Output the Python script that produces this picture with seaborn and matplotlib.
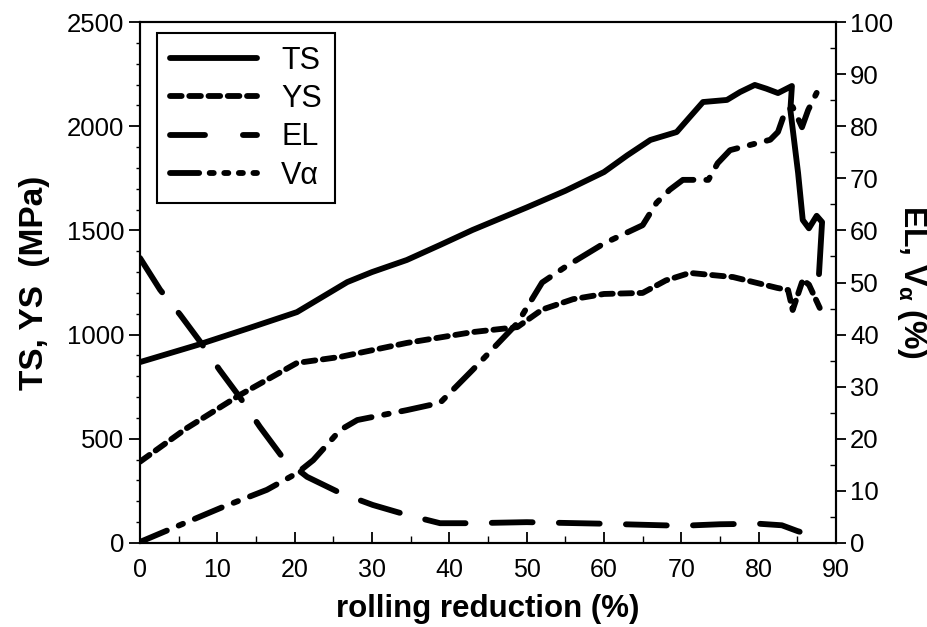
import matplotlib
matplotlib.use("Agg")
import matplotlib.pyplot as plt
import seaborn as sns
import pandas as pd
from matplotlib.ticker import MultipleLocator
from matplotlib.lines import Line2D

# ---- data ----
ts_x = [0, 7.4, 14, 20.3, 26.8, 30, 34.5, 38.8, 43, 50, 55, 60, 63, 66, 69.4, 71, 72.8, 75.9, 77.6, 79.5, 81, 82.5, 84.3, 84.1, 85.1, 85.7, 86.5, 87.5, 88.2, 87.8]
ts_y = [868, 950, 1030, 1108, 1252, 1300, 1358, 1430, 1502, 1610, 1690, 1780, 1860, 1934, 1972, 2040, 2116, 2126, 2164, 2198, 2180, 2159, 2193, 2078, 1775, 1550, 1510, 1570, 1540, 1290]

ys_x = [0, 6, 12.9, 20.3, 25.9, 34.5, 43, 48.8, 52, 56, 60, 65, 68, 71.1, 76.7, 82.4, 83.8, 84.4, 85.7, 86.5, 87.9]
ys_y = [390, 550, 710, 864, 893, 960, 1012, 1036, 1120, 1170, 1195, 1200, 1260, 1296, 1276, 1224, 1214, 1118, 1262, 1240, 1128]

el_x = [0, 2.6, 5.2, 7.8, 10.3, 12.9, 15.5, 18.5, 21.6, 25.9, 30.1, 34.5, 38.8, 43, 50, 60, 70, 75, 80, 83, 85, 86.5, 88]
el_y = [54.7, 48.6, 43.8, 38.6, 33.2, 28, 22.3, 16.3, 12.7, 9.6, 7.3, 5.4, 3.8, 3.8, 4.0, 3.7, 3.3, 3.6, 3.7, 3.4, 2.3, 1.6, 1.1]

va_x = [0, 4.3, 10.7, 16.4, 20.3, 22.4, 25.9, 28.1, 34.5, 38.8, 43, 48.8, 52, 55, 60, 65, 66.8, 68.5, 70.2, 73.5, 74.7, 76.3, 81.5, 82.5, 83.4, 84.4, 85.6, 86.4, 87.5]
va_y = [0.2, 2.9, 6.9, 10.2, 13.4, 15.9, 21.7, 23.6, 25.5, 26.9, 33.2, 42.2, 50, 53, 57.5, 61, 65.3, 67.8, 69.7, 69.7, 72.9, 75.4, 77.4, 78.9, 82.7, 83.7, 79.8, 83.1, 86.4]

x_ticks = [0, 10, 20, 30, 40, 50, 60, 70, 80, 90]
left_ticks = [0, 500, 1000, 1500, 2000, 2500]
right_ticks = [0, 10, 20, 30, 40, 50, 60, 70, 80, 90, 100]
legend_labels = ["TS", "YS", "EL", "Vα"]

# ---- style ----
sns.set_style("ticks")
plt.rcParams["font.family"] = ["Liberation Sans", "DejaVu Sans"]
plt.rcParams["mathtext.fontset"] = "custom"
plt.rcParams["mathtext.rm"] = "Liberation Sans"
plt.rcParams["mathtext.it"] = "Liberation Sans:italic"
plt.rcParams["mathtext.bf"] = "Liberation Sans:bold"
for k in ["text.color", "axes.labelcolor", "xtick.color", "ytick.color", "axes.edgecolor"]:
    plt.rcParams[k] = "black"

fig = plt.figure(figsize=(9.28, 6.27), dpi=100)
ax = fig.add_axes([140/928, 1-543/627, 696/928, 521/627])
ax2 = ax.twinx()

LW = 4.2
ts_df = pd.DataFrame({"x": ts_x, "y": ts_y})
ys_df = pd.DataFrame({"x": ys_x, "y": ys_y})
el_df = pd.DataFrame({"x": el_x, "y": el_y})
va_df = pd.DataFrame({"x": va_x, "y": va_y})

sns.lineplot(data=ts_df, x="x", y="y", ax=ax, color="black", linewidth=LW, sort=False, estimator=None)
sns.lineplot(data=ys_df, x="x", y="y", ax=ax, color="black", linewidth=LW, sort=False, estimator=None)
sns.lineplot(data=el_df, x="x", y="y", ax=ax2, color="black", linewidth=LW, sort=False, estimator=None)
sns.lineplot(data=va_df, x="x", y="y", ax=ax2, color="black", linewidth=LW, sort=False, estimator=None)

ys_dash = (2.0, 1.3)
el_dash = (7.0, 4.5)
va_dash = (5.0, 2.2, 0.8, 2.2)
ax.lines[1].set_dashes(ys_dash)
ax2.lines[0].set_dashes(el_dash)
ax2.lines[1].set_dashes(va_dash)
for ln in ax.lines + ax2.lines:
    ln.set_solid_capstyle("round")
    ln.set_dash_capstyle("round")
    ln.set_solid_joinstyle("round")

ax.set_xlim(0, 90)
ax.set_ylim(0, 2500)
ax2.set_ylim(0, 100)
ax.set_xticks(x_ticks)
ax.set_yticks(left_ticks)
ax2.set_yticks(right_ticks)
ax.xaxis.set_minor_locator(MultipleLocator(5))
ax.yaxis.set_minor_locator(MultipleLocator(100))
ax2.yaxis.set_minor_locator(MultipleLocator(5))

ax.tick_params(axis="x", which="major", direction="in", length=8, width=1.3, labelsize=18, pad=10.5)
ax.tick_params(axis="x", which="minor", direction="in", length=5, width=1.0)
ax.tick_params(axis="y", which="major", direction="out", length=8, width=1.3, labelsize=18.5, pad=3.5)
ax.tick_params(axis="y", which="minor", direction="out", length=3, width=1.0)
ax2.tick_params(axis="y", which="major", direction="out", length=7, width=1.3, labelsize=18.5, pad=3)
ax2.tick_params(axis="y", which="minor", direction="in", length=4, width=1.0)

for a in (ax, ax2):
    for s in a.spines.values():
        s.set_linewidth(1.5)
        s.set_color("black")
        s.set_visible(True)

ax.set_xlabel("rolling reduction (%)", fontsize=22.5, fontweight="bold", labelpad=9)
ax.set_ylabel("TS, YS  (MPa)", fontsize=24, fontweight="bold", labelpad=12)
ax2.set_ylabel(r"EL, V$_{\mathbf{\alpha}}$ (%)", fontsize=23, fontweight="bold", rotation=270, labelpad=26)

handles = [
    Line2D([], [], color="black", lw=LW, solid_capstyle="round"),
    Line2D([], [], color="black", lw=LW, dashes=ys_dash, dash_capstyle="round"),
    Line2D([], [], color="black", lw=LW, dashes=(6.0, 6.5), dash_capstyle="round"),
    Line2D([], [], color="black", lw=LW, dashes=(5.0, 1.8, 0.7, 1.8, 0.7, 1.8, 0.7, 1.8), dash_capstyle="round"),
]
leg = ax2.legend(handles, legend_labels, loc="upper left", bbox_to_anchor=(0.0244, 0.979),
                 borderaxespad=0, fontsize=22, handlelength=2.85, handletextpad=0.8,
                 labelspacing=0.27, borderpad=0.42, frameon=True, fancybox=False,
                 framealpha=1, edgecolor="black")
leg.get_frame().set_linewidth(1.5)

fig.savefig("out.png", dpi=100)
